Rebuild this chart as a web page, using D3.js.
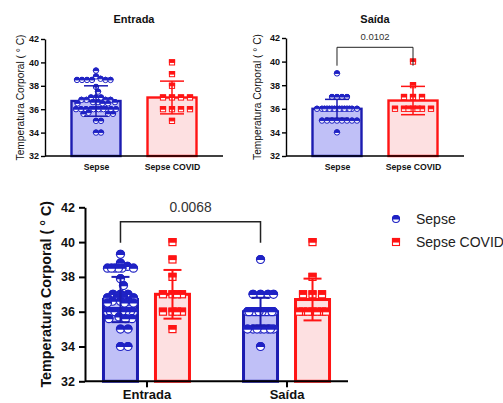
<!DOCTYPE html>
<html><head><meta charset="utf-8">
<script src="https://cdn.jsdelivr.net/npm/d3@7"></script>
<style>body{margin:0;background:#fff}svg{display:block}text{font-family:Arial,"Liberation Sans",sans-serif}</style>
</head><body><svg id="c" width="503" height="403"></svg>
<script>
// ---------------- data ----------------
const groups = ["Sepse", "Sepse COVID"];
const timepoints = ["Entrada", "Saída"];
const yTicks = [32, 34, 36, 38, 40, 42];
const sepseEntrada = [39.3, 38.8, 38.6, 38.5, 38.5, 38.5, 38.5, 38.5, 38.5, 37.9, 37.5,
  37.0, 37.0, 37.0, 36.8, 36.8, 36.8, 36.8, 36.6, 36.6, 36.6, 36.5, 36.5, 36.5,
  36.0, 36.0, 36.0, 36.0, 36.0, 36.0, 36.0, 36.0, 36.0, 36.0, 36.0, 36.0,
  35.7, 35.6, 35.6, 35.6, 35.0, 35.0, 34.0, 34.0];
const covidEntrada = [40, 39, 38, 37, 37, 37, 37, 36, 36, 36, 36, 35];
const sepseSaida = [39, 37, 37, 37, 37, 36, 36, 36, 36, 36, 36, 36, 36, 36, 36, 36, 36, 36, 36, 36,
  35, 35, 35, 35, 35, 35, 35, 35, 34];
const covidSaida = [40, 38, 37, 37, 37, 36, 36, 36, 36, 36, 36, 36];
const meanSepse = [36.7, 36.0];
const meanCovid = [37.0, 36.7];
const sdSepse = [1.3, 0.8];
const sdCovid = [1.4, 1.2];
const pSaida = "0.0102";
const pSepse = "0.0068";
const yTitle = "Temperatura Corporal ( ° C)";

// ---------------- style ----------------
const COL = {
  Sepse: {stroke: "#1c1cb0", fill: "#c0c0f7", marker: "#1f22c4", shape: "circle"},
  "Sepse COVID": {stroke: "#ff1414", fill: "#fde0e1", marker: "#ff1414", shape: "square"}
};
const svg = d3.select("#c");

function drawMarker(g, shape, cx, cy, r, color, sw) {
  if (shape === "circle") {
    g.append("circle").attr("cx", cx).attr("cy", cy).attr("r", r)
      .attr("fill", "#fff").attr("stroke", color).attr("stroke-width", sw);
    g.append("path").attr("d", `M${cx - r},${cy} A${r},${r} 0 0 1 ${cx + r},${cy} Z`)
      .attr("fill", color).attr("stroke", color).attr("stroke-width", sw);
  } else {
    g.append("rect").attr("x", cx - r).attr("y", cy - r).attr("width", 2 * r).attr("height", 2 * r)
      .attr("fill", "#fff").attr("stroke", color).attr("stroke-width", sw);
    g.append("rect").attr("x", cx - r).attr("y", cy - r).attr("width", 2 * r).attr("height", r)
      .attr("fill", color).attr("stroke", color).attr("stroke-width", sw);
  }
}

// simple beeswarm: horizontal offsets so markers overlap little
function swarm(values, y, thr, halfW) {
  const pts = values.map(v => ({v, py: y(v)})).sort((a, b) => b.v - a.v);
  const placed = [];
  pts.forEach(p => {
    const cands = [0];
    for (let k = 0.5; k <= halfW; k += 0.5) { cands.push(k, -k); }
    let best = null, bestScore = -1, chosen = null;
    for (const c of cands) {
      let md = Infinity;
      for (const q of placed) {
        const d = Math.hypot(q.dx - c, q.py - p.py);
        if (d < md) md = d;
      }
      if (md >= thr) { chosen = c; break; }
      if (md > bestScore) { bestScore = md; best = c; }
    }
    p.dx = chosen !== null ? chosen : best;
    placed.push(p);
  });
  return placed;
}

function drawSeries(g, s, y, yBase, o) {
  const c = COL[s.group];
  const x0 = s.cx - o.barW / 2;
  g.append("rect").attr("x", x0).attr("y", y(s.mean)).attr("width", o.barW)
    .attr("height", yBase - y(s.mean)).attr("fill", c.fill)
    .attr("stroke", c.stroke).attr("stroke-width", o.barSW);
  const r = o.r[c.shape];
  const pts = swarm(s.values, y, o.thr[c.shape], o.barW / 2 - r);
  const mg = g.append("g");
  pts.forEach(p => drawMarker(mg, c.shape, s.cx + p.dx, p.py, r, c.marker, o.mSW));
  const eg = g.append("g").attr("stroke", c.stroke).attr("stroke-width", o.errSW);
  eg.append("line").attr("x1", s.cx).attr("x2", s.cx).attr("y1", y(s.mean + s.sd)).attr("y2", y(s.mean - s.sd));
  [s.mean + s.sd, s.mean - s.sd].forEach(v =>
    eg.append("line").attr("x1", s.cx - o.cap / 2).attr("x2", s.cx + o.cap / 2).attr("y1", y(v)).attr("y2", y(v)));
}

function drawYAxis(g, y, x0, o) {
  const ax = g.append("g").attr("transform", `translate(${x0},0)`)
    .call(d3.axisLeft(y).tickValues(yTicks).tickSize(o.tick).tickSizeOuter(0).tickPadding(o.tickPad).tickFormat(d3.format("d")));
  ax.selectAll("path,line").attr("stroke", "#000").attr("stroke-width", o.axSW);
  ax.selectAll("text").attr("fill", "#111").attr("font-weight", "bold").attr("font-size", o.tickFS);
  g.append("text").attr("transform", `translate(${o.yTitleX},${(y.range()[0] + y.range()[1]) / 2}) rotate(-90)`)
    .attr("text-anchor", "middle").attr("dominant-baseline", "central")
    .attr("font-size", o.yTitleFS).attr("font-weight", o.yTitleW).attr("fill", "#111").text(yTitle);
}

// ---------------- top panels ----------------
function topPanel(o) {
  const g = svg.append("g");
  const y = d3.scaleLinear([32, 42], [o.yBot, o.yTop]);
  const x = d3.scalePoint(groups, [o.x0, o.x1]).padding(0.671);
  o.series.forEach(s => drawSeries(g, Object.assign({cx: x(s.group)}, s), y, o.yBot, o));
  drawYAxis(g, y, o.x0, o);
  const xa = g.append("g").attr("transform", `translate(0,${o.yBot})`)
    .call(d3.axisBottom(x).tickSize(0).tickSizeOuter(0).tickPadding(8));
  xa.select("path").attr("stroke", "#000").attr("stroke-width", o.axSW).attr("d", `M${o.x0},0H${o.x1}`);
  xa.selectAll("text").attr("font-size", 8.7).attr("font-weight", "bold").attr("fill", "#111");
  g.append("text").attr("x", (o.x0 + o.x1) / 2).attr("y", 23).attr("text-anchor", "middle")
    .attr("font-size", 11).attr("font-weight", "bold").attr("fill", "#111").text(o.title);
  if (o.p) {
    const xa1 = x(groups[0]), xb = x(groups[1]), yb = 47.3, yd = 65.7;
    g.append("path").attr("d", `M${xa1},${yd}V${yb}H${xb}V${yd}`).attr("fill", "none")
      .attr("stroke", "#222").attr("stroke-width", 1);
    g.append("text").attr("x", (xa1 + xb) / 2).attr("y", 40).attr("text-anchor", "middle")
      .attr("font-size", 9.5).attr("fill", "#333").text(o.p);
  }
}
const topStyle = {barW: 49, r: {circle: 2.7, square: 2.6}, thr: {circle: 5, square: 8.8},
  barSW: 2.4, mSW: 1, errSW: 1.5, cap: 24, axSW: 1.4, tick: 4, tickPad: 2,
  tickFS: 9, yTitleFS: 10.2, yTitleW: "normal"};
topPanel(Object.assign({}, topStyle, {x0: 45, x1: 223, yTop: 39, yBot: 156, title: timepoints[0], yTitleX: 20,
  series: [{group: groups[0], values: sepseEntrada, mean: meanSepse[0], sd: sdSepse[0]},
           {group: groups[1], values: covidEntrada, mean: meanCovid[0], sd: sdCovid[0]}]}));
topPanel(Object.assign({}, topStyle, {x0: 286, x1: 464, yTop: 38, yBot: 156, title: timepoints[1], yTitleX: 257, p: pSaida,
  series: [{group: groups[0], values: sepseSaida, mean: meanSepse[1], sd: sdSepse[1]},
           {group: groups[1], values: covidSaida, mean: meanCovid[1], sd: sdCovid[1]}]}));

// ---------------- bottom panel ----------------
(function () {
  const o = {barW: 34, r: {circle: 4, square: 3.5}, thr: {circle: 7.4, square: 9.3},
    barSW: 3, mSW: 1.2, errSW: 2, cap: 18, axSW: 2, tick: 6, tickPad: 4,
    tickFS: 12.5, yTitleFS: 14.3, yTitleW: "bold", yTitleX: 46};
  const x0 = 85, x1 = 348, yTop = 207.3, yBot = 381.3;
  const g = svg.append("g");
  const y = d3.scaleLinear([32, 42], [yBot, yTop]);
  const xg = d3.scalePoint(timepoints, [x0, x1]).padding(0.439);
  const xi = d3.scalePoint(groups, [-26, 26]);
  const allSeries = [
    {t: 0, group: groups[0], values: sepseEntrada, mean: meanSepse[0], sd: sdSepse[0]},
    {t: 0, group: groups[1], values: covidEntrada, mean: meanCovid[0], sd: sdCovid[0]},
    {t: 1, group: groups[0], values: sepseSaida, mean: meanSepse[1], sd: sdSepse[1]},
    {t: 1, group: groups[1], values: covidSaida, mean: meanCovid[1], sd: sdCovid[1]}];
  allSeries.forEach(s => { s.cx = xg(timepoints[s.t]) + xi(s.group); drawSeries(g, s, y, yBot, o); });
  drawYAxis(g, y, x0, o);
  const xa = g.append("g").attr("transform", `translate(0,${yBot})`)
    .call(d3.axisBottom(xg).tickSize(6).tickSizeOuter(0).tickPadding(2));
  xa.selectAll("path,line").attr("stroke", "#000").attr("stroke-width", 2);
  xa.select("path").attr("d", `M${x0},0H${x1}`);
  xa.selectAll("text").attr("font-size", 13).attr("font-weight", "bold").attr("fill", "#111");
  // bracket
  const xa1 = allSeries[0].cx, xb = allSeries[2].cx, yb = 221.7, yd = 242.7;
  g.append("path").attr("d", `M${xa1},${yd}V${yb}H${xb}V${yd}`).attr("fill", "none")
    .attr("stroke", "#222").attr("stroke-width", 1.5);
  g.append("text").attr("x", (xa1 + xb) / 2).attr("y", 212).attr("text-anchor", "middle")
    .attr("font-size", 13.8).attr("fill", "#333").text(pSepse);
  // legend
  groups.forEach((gr, i) => {
    const ly = 219 + i * 23;
    drawMarker(g, COL[gr].shape, 396, ly, 3.5, COL[gr].marker, 1.1);
    g.append("text").attr("x", 416).attr("y", ly).attr("dominant-baseline", "central")
      .attr("font-size", 14).attr("fill", "#222").text(gr);
  });
})();
</script></body></html>
